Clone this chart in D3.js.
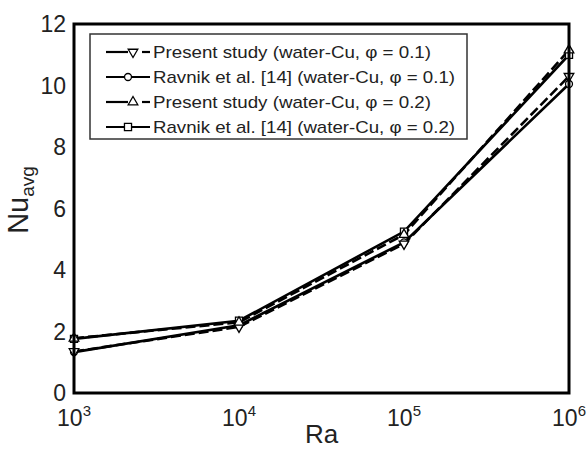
<!DOCTYPE html>
<html>
<head>
<meta charset="utf-8">
<script src="https://cdn.jsdelivr.net/npm/d3@7"></script>
<style>
  body { margin: 0; background: #fff; }
  text { font-family: "Liberation Sans", Arial, sans-serif; fill: #222; }
</style>
</head>
<body>
<div id="chart"></div>
<script>
let width = 587;
let height = 451;

// data
let raValues = [1e3, 1e4, 1e5, 1e6];
let presentCu01 = [1.35, 2.15, 4.85, 10.3];
let ravnikCu01 = [1.33, 2.2, 4.9, 10.05];
let presentCu02 = [1.78, 2.3, 5.15, 11.15];
let ravnikCu02 = [1.76, 2.35, 5.25, 11.0];
let yTicks = [0, 2, 4, 6, 8, 10, 12];
let xTickExp = [3, 4, 5, 6];

let seriesList = [
    {name: "Present study (water-Cu, \u03c6 = 0.1)", values: presentCu01, marker: "tri-down", dashed: true},
    {name: "Ravnik et al. [14] (water-Cu, \u03c6 = 0.1)", values: ravnikCu01, marker: "circle", dashed: false},
    {name: "Present study (water-Cu, \u03c6 = 0.2)", values: presentCu02, marker: "tri-up", dashed: true},
    {name: "Ravnik et al. [14] (water-Cu, \u03c6 = 0.2)", values: ravnikCu02, marker: "square", dashed: false}
];

let margin = {left: 74, right: 18, top: 24, bottom: 58};

let svg = d3.select("#chart").append("svg")
    .attr("width", width)
    .attr("height", height);

let x = d3.scaleLog()
    .domain([1e3, 1e6])
    .range([margin.left, width - margin.right]);

let y = d3.scaleLinear()
    .domain([0, 12])
    .range([height - margin.bottom, margin.top]);

// y tick labels
yTicks.forEach(t =>
    svg.append("text")
        .attr("x", margin.left - 8)
        .attr("y", y(t) + 8)
        .attr("text-anchor", "end")
        .attr("font-size", 23)
        .text(t)
);

// x tick labels 10^n
xTickExp.forEach(e => {
    let t = svg.append("text")
        .attr("x", x(Math.pow(10, e)))
        .attr("y", y(0) + 33)
        .attr("text-anchor", "middle")
        .attr("font-size", 23);
    t.append("tspan").text("10");
    t.append("tspan").attr("dy", -10).attr("font-size", 15).text(e);
});

// axis titles
svg.append("text")
    .attr("x", (x(1e3) + x(1e6)) / 2)
    .attr("y", 443)
    .attr("text-anchor", "middle")
    .attr("font-size", 26)
    .text("Ra");

let yt = svg.append("text")
    .attr("transform", "translate(28,200) rotate(-90)")
    .attr("text-anchor", "middle")
    .attr("font-size", 29);
yt.append("tspan").text("Nu");
yt.append("tspan").attr("dy", 6).attr("font-size", 19).text("avg");

let line = d3.line()
    .x((d, i) => x(raValues[i]))
    .y(d => y(d));

let markerPath = {
    "circle": d3.symbol(d3.symbolCircle, 38)(),
    "square": d3.symbol(d3.symbolSquare, 50)(),
    "tri-up": d3.symbol(d3.symbolTriangle, 40)(),
    "tri-down": d3.symbol(d3.symbolTriangle, 40)()
};

function drawMarker(g, type, cx, cy) {
    g.append("path")
        .attr("d", markerPath[type])
        .attr("transform", "translate(" + cx + "," + cy + ")" + (type === "tri-down" ? " rotate(180)" : ""))
        .attr("fill", "white")
        .attr("stroke", "black")
        .attr("stroke-width", 1.3);
}

// lines: solid first, then dashed on top
let drawOrder = [1, 3, 0, 2];
drawOrder.forEach(i => {
    let s = seriesList[i];
    svg.append("path")
        .datum(s.values)
        .attr("d", line)
        .attr("fill", "none")
        .attr("stroke", "black")
        .attr("stroke-width", 2.6)
        .attr("stroke-dasharray", s.dashed ? "10,4" : null);
});

drawOrder.forEach(i => {
    let s = seriesList[i];
    s.values.forEach((v, j) => drawMarker(svg, s.marker, x(raValues[j]), y(v)));
});

// frame
svg.append("rect")
    .attr("x", x(1e3))
    .attr("y", y(12))
    .attr("width", x(1e6) - x(1e3))
    .attr("height", y(0) - y(12))
    .attr("fill", "none")
    .attr("stroke", "black")
    .attr("stroke-width", 3);

// legend
let legend = svg.append("g").attr("transform", "translate(90,34)");
legend.append("rect")
    .attr("width", 377)
    .attr("height", 105)
    .attr("fill", "white")
    .attr("stroke", "#333")
    .attr("stroke-width", 1.5);

seriesList.forEach((s, i) => {
    let ly = 18 + i * 25;
    if (s.dashed) {
        legend.append("line")
            .attr("x1", 16).attr("x2", 38).attr("y1", ly).attr("y2", ly)
            .attr("stroke", "black").attr("stroke-width", 2.2);
        legend.append("line")
            .attr("x1", 52).attr("x2", 60).attr("y1", ly).attr("y2", ly)
            .attr("stroke", "black").attr("stroke-width", 2.2);
    } else {
        legend.append("line")
            .attr("x1", 16).attr("x2", 60).attr("y1", ly).attr("y2", ly)
            .attr("stroke", "black").attr("stroke-width", 2.2);
    }
    drawMarker(legend, s.marker, 38 + (s.dashed ? 5 : 0), ly);
    legend.append("text")
        .attr("x", 63)
        .attr("y", ly + 6)
        .attr("font-size", 17)
        .attr("textLength", s.name.indexOf("Ravnik") === 0 ? 302 : 278)
        .attr("lengthAdjust", "spacingAndGlyphs")
        .text(s.name);
});
</script>
</body>
</html>
